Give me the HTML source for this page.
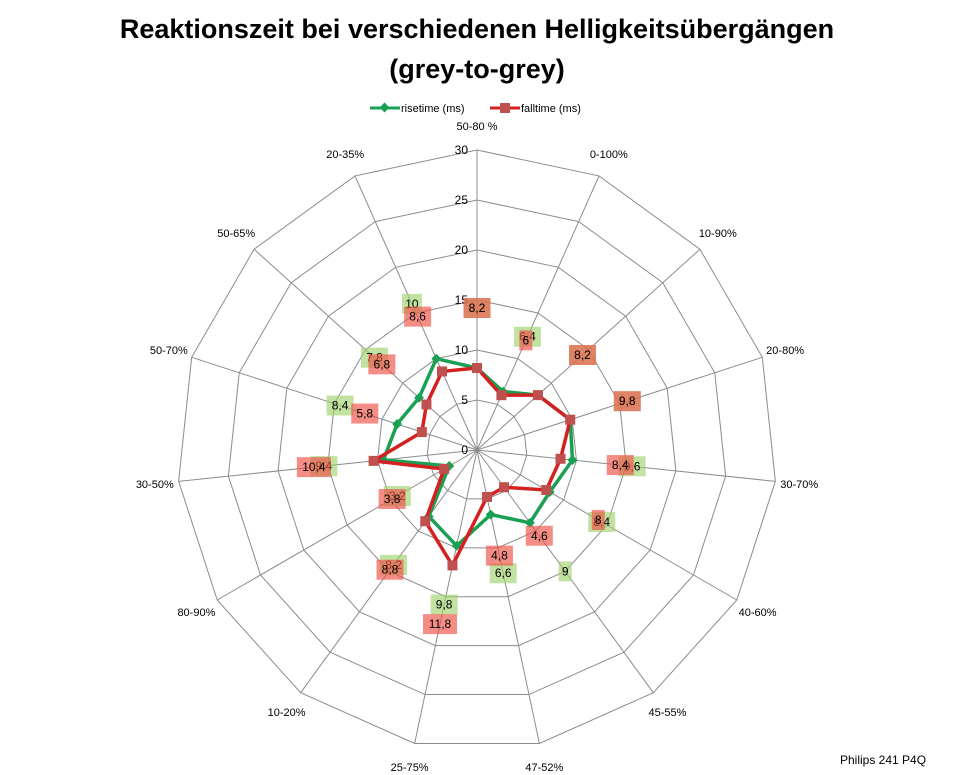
<!DOCTYPE html>
<html><head><meta charset="utf-8"><style>
body{margin:0;background:#fff;}
svg{display:block;font-family:"Liberation Sans",sans-serif;}
</style></head><body>
<svg id="chart" width="956" height="775" viewBox="0 0 956 775">
<text x="477" y="38" text-anchor="middle" font-size="27" font-weight="bold">Reaktionszeit bei verschiedenen Helligkeitsübergängen</text>
<text x="477" y="78" text-anchor="middle" font-size="27" font-weight="bold">(grey-to-grey)</text>
<g>
<g>
<line x1="370" y1="108" x2="400" y2="108" stroke="#1aa052" stroke-width="3"/>
<rect x="381" y="104" width="7" height="7" fill="#1aa052" transform="rotate(45 384.5 107.5)"/>
<text x="401" y="112" font-size="11">risetime (ms)</text></g>
<g>
<line x1="490" y1="108" x2="520" y2="108" stroke="#d42020" stroke-width="3"/>
<rect x="500" y="103" width="10" height="10" fill="#c0504d"/>
<text x="521" y="112" font-size="11">falltime (ms)</text></g>
</g>
<g id="grid"></g><g id="series"></g><g id="labels"></g>
<text x="840" y="764" font-size="12">Philips 241  P4Q</text>
</svg>
<script>
const categories=["50-80 %","0-100%","10-90%","20-80%","30-70%","40-60%","45-55%","47-52%","25-75%","10-20%","80-90%","30-50%","50-70%","50-65%","20-35%"];
const riseValues=[8.2,6.4,8.2,9.8,9.6,8.4,9,6.6,9.8,8.2,3.2,9.4,8.4,7.8,10];
const fallValues=[8.2,6,8.2,9.8,8.4,8,4.6,4.8,11.8,8.8,3.8,10.4,5.8,6.8,8.6];
const tickLabels=[0,5,10,15,20,25,30];
const NS="http://www.w3.org/2000/svg";
const cx=477,cy=450,R=300,maxV=30;
function ang(i){return i*2*Math.PI/categories.length;}
function pt(i,v){const r=v/maxV*R;return [cx+r*Math.sin(ang(i)),cy-r*Math.cos(ang(i))];}
function mk(tag,attrs,parent){const e=document.createElementNS(NS,tag);for(const k in attrs)e.setAttribute(k,attrs[k]);parent.appendChild(e);return e;}
const grid=document.getElementById('grid');
tickLabels.forEach(t=>{if(t===0)return;
 const p=categories.map((c,i)=>pt(i,t).join(',')).join(' ');
 const pg=mk('polygon',{points:p,fill:'none',stroke:'#8c8c8c','stroke-width':1},grid);
 
 });
categories.forEach((c,i)=>{const e=pt(i,maxV);
 const l=mk('line',{x1:cx,y1:cy,x2:e[0],y2:e[1],stroke:'#8c8c8c','stroke-width':1},grid);
 
 
 const lp=pt(i,maxV+2.4);
 const tx=mk('text',{x:lp[0],y:lp[1]+4,'text-anchor':'middle','font-size':11},grid);
 tx.textContent=c;
 
 });
tickLabels.forEach(t=>{const p=pt(0,t);
 const tx=mk('text',{x:p[0]-9,y:p[1]+4,'text-anchor':'end','font-size':12},grid);
 tx.textContent=t;
 
 });
const series=document.getElementById('series'),labels=document.getElementById('labels');
function draw(vals,color,marker,name,bg){
 const p=vals.map((v,i)=>pt(i,v).join(',')).join(' ');
 const pg=mk('polygon',{points:p,fill:'none',stroke:color,'stroke-width':3.5,'stroke-linejoin':'round'},series);
 
 
 vals.forEach((v,i)=>{const q=pt(i,v);let m;
  if(marker==='d'){m=mk('rect',{x:q[0]-3.5,y:q[1]-3.5,width:7,height:7,fill:color,transform:'rotate(45 '+q[0]+' '+q[1]+')'},series);}
  else{m=mk('rect',{x:q[0]-5,y:q[1]-5,width:10,height:10,fill:'#c0504d'},series);}
  
  
  const lp=pt(i,v+6);const s=String(v).replace('.',',');const w=s.length*7+6;
  const g=mk('g',{},labels);
  
  
  mk('rect',{x:lp[0]-w/2,y:lp[1]-10,width:w,height:20,fill:bg},g);
  const tx=mk('text',{x:lp[0],y:lp[1]+4,'text-anchor':'middle','font-size':12},g);
  tx.textContent=s;});
}
draw(riseValues,'#1aa052','d','risetime','rgba(160,210,110,0.65)');
draw(fallValues,'#d42020','s','falltime','rgba(240,80,70,0.65)');
</script>
</body></html>
